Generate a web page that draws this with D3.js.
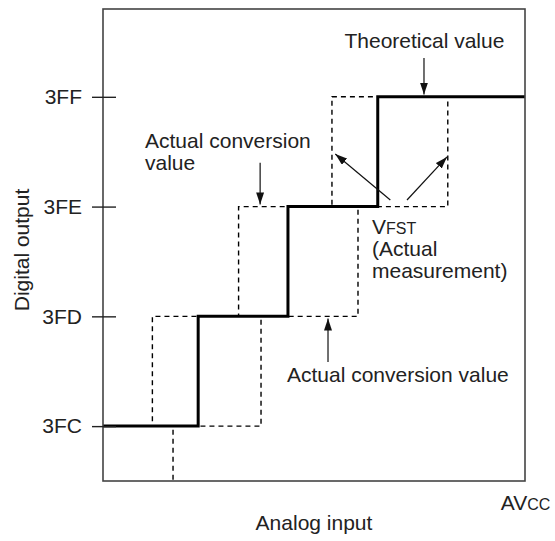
<!DOCTYPE html>
<html>
<head>
<meta charset="utf-8">
<script src="https://cdn.jsdelivr.net/npm/d3@7"></script>
<style>
  body { margin: 0; background: #fff; }
  text { font-family: "Liberation Sans", Arial, sans-serif; fill: #222; }
</style>
</head>
<body>
<div id="chart"></div>
<script>
// output codes on the y axis (index 0 = 3FC)
const codes = ["3FC", "3FD", "3FE", "3FF"];
// analog input (in LSB, from the left edge of the frame) where each code starts
const theoreticalSteps = [1.06, 2.06, 3.06];        // into 3FD, 3FE, 3FF
const actualLeftSteps = [0.55, 1.51, 2.55];         // into 3FD, 3FE, 3FF
const actualRightSteps = [0.78, 1.76, 2.84, 3.84];  // into 3FC, 3FD, 3FE, 3FF
const xMax = 4.7;

const W = 555, H = 541;
const margin = { top: 9, right: 30, bottom: 60, left: 103 };
const fontSize = 21;
const smallSize = 16;

const svg = d3.select("#chart").append("svg")
  .attr("width", W)
  .attr("height", H);

const x = d3.scaleLinear().domain([0, xMax]).range([margin.left, W - margin.right]);
const y = d3.scaleLinear().domain([-0.5, 3.8]).range([H - margin.bottom, margin.top]);

svg.append("defs").append("clipPath").attr("id", "plot")
  .append("rect")
  .attr("x", x(0)).attr("y", y(3.8))
  .attr("width", x(xMax) - x(0)).attr("height", y(-0.5) - y(3.8));

const marker = svg.select("defs").append("marker")
  .attr("id", "head")
  .attr("viewBox", "0 0 12 8")
  .attr("refX", 12).attr("refY", 4)
  .attr("markerWidth", 12).attr("markerHeight", 8)
  .attr("markerUnits", "userSpaceOnUse")
  .attr("orient", "auto");
marker.append("path").attr("d", "M0,0 L12,4 L0,8 Z").attr("fill", "#111");

// turn a list of code-entry points into a staircase
const stairs = (steps, firstCode) => [
  { x: -1, y: firstCode - 1 },
  ...steps.map((s, i) => ({ x: s, y: firstCode + i })),
  { x: xMax + 1, y: firstCode + steps.length - 1 }
];
const line = d3.line().x(d => x(d.x)).y(d => y(d.y)).curve(d3.curveStepAfter);

const plot = svg.append("g").attr("clip-path", "url(#plot)");

plot.selectAll(".actual")
  .data([stairs(actualLeftSteps, 1), stairs(actualRightSteps, 0)])
  .enter().append("path")
  .attr("class", "actual")
  .attr("d", line)
  .attr("fill", "none")
  .attr("stroke", "#000")
  .attr("stroke-width", 1.4)
  .attr("stroke-dasharray", "5,4");

plot.append("path")
  .datum(stairs(theoreticalSteps, 1))
  .attr("d", line)
  .attr("fill", "none")
  .attr("stroke", "#000")
  .attr("stroke-width", 3);

// frame
svg.append("rect")
  .attr("x", x(0)).attr("y", y(3.8))
  .attr("width", x(xMax) - x(0)).attr("height", y(-0.5) - y(3.8))
  .attr("fill", "none")
  .attr("stroke", "#444")
  .attr("stroke-width", 1.6);

// y axis: ticks cross the frame
const yAxis = svg.append("g")
  .attr("transform", `translate(${x(0) + 13},0)`)
  .call(d3.axisLeft(y)
    .tickValues(d3.range(codes.length))
    .tickFormat(i => codes[i])
    .tickSize(24)
    .tickPadding(10));
yAxis.select(".domain").remove();
yAxis.selectAll(".tick line").attr("stroke", "#222").attr("stroke-width", 1.4);
yAxis.selectAll(".tick text")
  .attr("font-size", fontSize)
  .attr("font-family", null)
  .attr("fill", null);

// x axis: only the AVcc end label
const xAxis = svg.append("g")
  .attr("transform", `translate(0,${y(-0.5)})`)
  .call(d3.axisBottom(x).tickValues([xMax]).tickSize(0).tickPadding(14));
xAxis.select(".domain").remove();
xAxis.selectAll(".tick text").each(function () {
  const t = d3.select(this).text(null).attr("font-size", fontSize)
    .attr("font-family", null).attr("fill", null);
  t.append("tspan").text("AV");
  t.append("tspan").attr("font-size", smallSize).text("CC");
});

// axis titles
svg.append("text")
  .attr("transform", `translate(29,${(y(3.8) + y(-0.5)) / 2 + 5}) rotate(-90)`)
  .attr("text-anchor", "middle")
  .attr("font-size", fontSize)
  .text("Digital output");
svg.append("text")
  .attr("x", (x(0) + x(xMax)) / 2)
  .attr("y", 530)
  .attr("text-anchor", "middle")
  .attr("font-size", fontSize)
  .text("Analog input");

// annotations (positions in data units)
const labels = [
  { x: 3.58, y: 3.445, anchor: "middle", lines: [["Theoretical value"]] },
  { x: 0.468, y: 2.534, anchor: "start", lines: [["Actual conversion"], ["value"]] },
  { x: 2.996, y: 1.75, anchor: "start", lines: [["V", "FST"], ["(Actual"], ["measurement)"]] },
  { x: 2.049, y: 0.402, anchor: "start", lines: [["Actual conversion value"]] }
];
const arrows = [
  { x1: 3.575, y1: 3.353, x2: 3.575, y2: 3.02 },
  { x1: 1.75, y1: 2.40, x2: 1.75, y2: 2.02 },
  { x1: 3.20, y1: 2.06, x2: 2.587, y2: 2.479 },
  { x1: 3.386, y1: 2.06, x2: 3.831, y2: 2.452 },
  { x1: 2.506, y1: 0.584, x2: 2.506, y2: 0.98 }
];

labels.forEach(l => {
  const t = svg.append("text")
    .attr("x", x(l.x)).attr("y", y(l.y))
    .attr("text-anchor", l.anchor)
    .attr("font-size", fontSize);
  l.lines.forEach((parts, i) => {
    parts.forEach((p, j) => {
      const ts = t.append("tspan").text(p);
      if (j === 0) ts.attr("x", x(l.x)).attr("dy", i === 0 ? 0 : 22);
      else ts.attr("font-size", smallSize);
    });
  });
});

svg.selectAll(".arrow")
  .data(arrows)
  .enter().append("line")
  .attr("class", "arrow")
  .attr("x1", d => x(d.x1)).attr("y1", d => y(d.y1))
  .attr("x2", d => x(d.x2)).attr("y2", d => y(d.y2))
  .attr("stroke", "#111")
  .attr("stroke-width", 1.2)
  .attr("marker-end", "url(#head)");
</script>
</body>
</html>
